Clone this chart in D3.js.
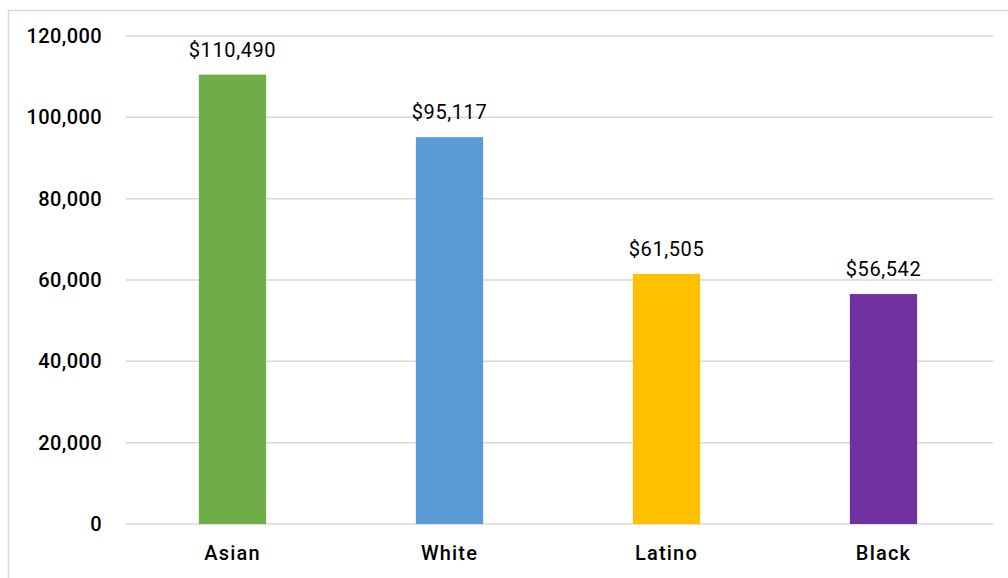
<html>
<head>
<meta charset="utf-8">
<script src="https://d3js.org/d3.v7.min.js"></script>
<style>
  body { margin: 0; background: #fff; }
  svg { display: block; }
</style>
</head>
<body>
<div id="chart"><svg></svg></div>
<script>
// data
var groups = ["Asian", "White", "Latino", "Black"];
var incomes = [110490, 95117, 61505, 56542];
var barColors = ["#70ad47", "#5b9bd5", "#ffc000", "#7030a0"];
var yTicks = [0, 20000, 40000, 60000, 80000, 100000, 120000];

var width = 1008, height = 578;
var svg = d3.select("svg").attr("width", width).attr("height", height);

// chart frame
svg.append("rect")
  .attr("x", 8.5).attr("y", 10.5)
  .attr("width", 1010).attr("height", 580)
  .attr("fill", "none")
  .style("stroke", "#d9d9d9")
  .style("stroke-width", 1.5);

// plot area (note: "top" is reserved on window, so use plotTop)
var plotLeft = 124, plotRight = 992, plotTop = 36, plotBottom = 524;

var x = d3.scaleBand().domain(groups).range([plotLeft, plotRight]).paddingInner(0.69).paddingOuter(0.345);
var y = d3.scaleLinear().domain([0, 120000]).range([plotBottom, plotTop]);

var font = "'Roboto', 'Liberation Sans', sans-serif";

// gridlines
svg.append("g")
  .selectAll("line")
  .data(yTicks)
  .join("line")
  .attr("x1", 126).attr("x2", 993)
  .attr("y1", d => y(d)).attr("y2", d => y(d))
  .style("stroke", "#d9d9d9")
  .style("stroke-width", 1.5);

// y axis labels
var yAxis = d3.axisLeft(y).tickValues(yTicks).tickSize(0).tickPadding(0)
  .tickFormat(d3.format(","));
svg.append("g")
  .attr("transform", "translate(102,0)")
  .call(yAxis)
  .call(g => g.select(".domain").remove())
  .selectAll("text")
  .style("font-family", font)
  .style("font-size", "20px")
  .style("font-weight", 500)
  .style("letter-spacing", "0.4px")
  .attr("fill", "#000");

// bars
svg.append("g")
  .selectAll("rect")
  .data(groups)
  .join("rect")
  .attr("x", d => x(d))
  .attr("width", x.bandwidth())
  .attr("y", (d, i) => y(incomes[i]))
  .attr("height", (d, i) => plotBottom - y(incomes[i]))
  .attr("fill", (d, i) => barColors[i]);

// value labels
svg.append("g")
  .selectAll("text")
  .data(groups)
  .join("text")
  .attr("x", d => x(d) + x.bandwidth() / 2)
  .attr("y", (d, i) => y(incomes[i]) - 18)
  .attr("text-anchor", "middle")
  .style("font-family", font)
  .style("font-size", "20px")
  .style("font-weight", 400)
  .style("letter-spacing", "0.6px")
  .text((d, i) => "$" + d3.format(",")(incomes[i]));

// category labels
var xAxis = d3.axisBottom(x).tickSize(0).tickPadding(0);
svg.append("g")
  .attr("transform", "translate(0," + (plotBottom + 36) + ")")
  .call(xAxis)
  .call(g => g.select(".domain").remove())
  .selectAll("text")
  .attr("dy", 0)
  .style("font-family", font)
  .style("font-size", "20px")
  .style("font-weight", 500)
  .style("letter-spacing", "1.2px")
  .attr("fill", "#000");
</script>
</body>
</html>
